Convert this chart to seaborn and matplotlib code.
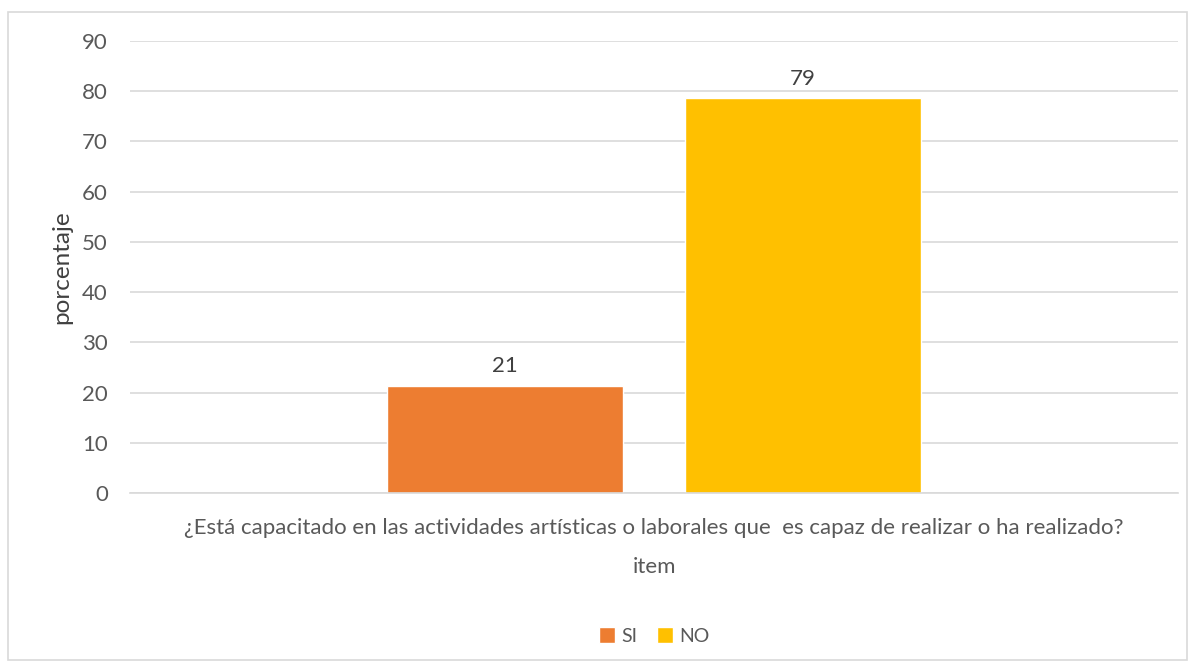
import matplotlib
matplotlib.use("Agg")
import matplotlib.pyplot as plt
import seaborn as sns
import pandas as pd
from matplotlib.patches import Rectangle

categories = ["¿Está capacitado en las actividades artísticas o laborales que  es capaz de realizar o ha realizado?"]
series = ["SI", "NO"]
values = [21.4, 78.6]
colors = ["#ED7D31", "#FFC000"]
yticks = [0, 10, 20, 30, 40, 50, 60, 70, 80, 90]

df = pd.DataFrame({"item": categories * len(series), "serie": series, "valor": values})

sns.set_theme(style="white")
plt.rcParams["font.family"] = ["Lato", "DejaVu Sans"]

fig = plt.figure(figsize=(11.95, 6.66), dpi=100)
ax = fig.add_axes([0.1088, 0.2598, 0.877, 0.6786])

sns.barplot(data=df, x="item", y="valor", hue="serie", palette=colors,
            width=0.569, gap=0.21, ax=ax, legend=True, saturation=1)

ax.set_ylim(0, 90)
ax.set_xlim(-0.5, 0.5)
ax.set_yticks(yticks)
ax.yaxis.grid(True, color="#D9D9D9", linewidth=1.2)
ax.set_axisbelow(True)
for s in ["top", "right", "left"]:
    ax.spines[s].set_visible(False)
ax.spines["bottom"].set_color("#D9D9D9")
ax.spines["bottom"].set_linewidth(1.2)
ax.tick_params(axis="both", length=0, labelsize=16, colors="#595959")
ax.tick_params(axis="y", pad=16)
ax.tick_params(axis="x", pad=18)

for cont in ax.containers:
    ax.bar_label(cont, fmt="%.0f", padding=7, fontsize=16, color="#404040")

ax.set_xlabel("item", fontsize=16, color="#595959", labelpad=14)
ax.set_ylabel("porcentaje", fontsize=17.5, color="#404040", labelpad=7)

ax.legend(loc="upper center", bbox_to_anchor=(0.5, -0.258), ncol=2, frameon=False,
          fontsize=14, handlelength=0.85, handleheight=0.85, handletextpad=0.3,
          columnspacing=1.0, labelcolor="#595959")

fig.patches.append(Rectangle((8 / 1195, 1 - 660 / 666), 1179 / 1195, 648 / 666,
                             transform=fig.transFigure, fill=False,
                             edgecolor="#D9D9D9", linewidth=1.2))

fig.savefig("out.png", dpi=100)
